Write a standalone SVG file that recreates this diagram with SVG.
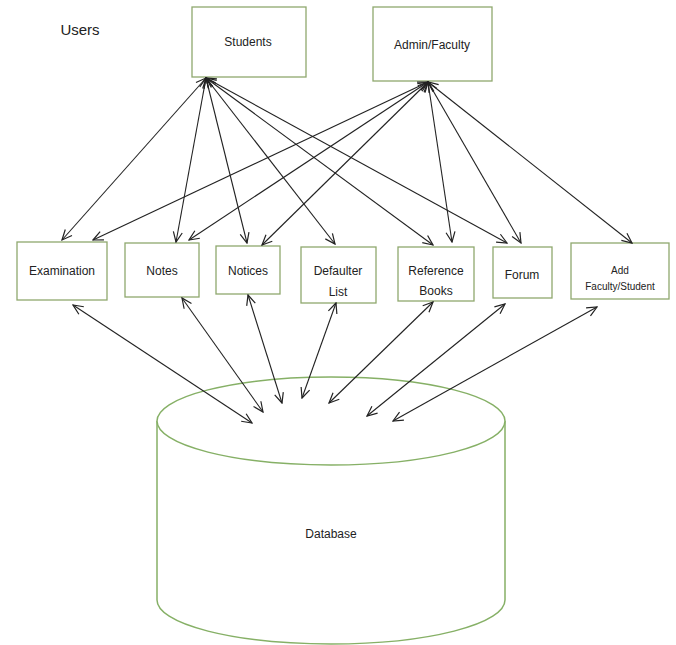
<svg xmlns="http://www.w3.org/2000/svg" width="676" height="645" viewBox="0 0 676 645">
<style>
.box{fill:#fff;stroke:#8fa86e;stroke-width:1.3}
.db{fill:#fff;stroke:#86b066;stroke-width:1.5}
.t{font-family:"Liberation Sans",Arial,sans-serif;font-size:12px;fill:#222;text-anchor:middle}
.c{stroke:#222;stroke-width:1.1;fill:none;marker-start:url(#ah);marker-end:url(#ah)}
</style>
<defs>
<marker id="ah" viewBox="-12 -6 13 12" markerWidth="13" markerHeight="12" refX="0" refY="0" markerUnits="userSpaceOnUse" orient="auto-start-reverse">
<path d="M-10,-4.5 L0,0 L-10,4.5" fill="none" stroke="#222" stroke-width="1.2"/>
</marker>
</defs>
<rect width="676" height="645" fill="#fff"/>
<text x="80" y="35" class="t" style="font-size:15px">Users</text>
<g id="students"><rect class="box" x="192" y="7" width="114" height="70"/><text class="t" x="248" y="46">Students</text></g>
<g id="admin"><rect class="box" x="373" y="7" width="119" height="74"/><text class="t" x="432" y="49">Admin/Faculty</text></g>
<g id="examination"><rect class="box" x="17" y="242" width="90" height="58"/><text class="t" x="62" y="275">Examination</text></g>
<g id="notes"><rect class="box" x="125" y="243" width="74" height="54"/><text class="t" x="162" y="275">Notes</text></g>
<g id="notices"><rect class="box" x="216" y="246" width="64" height="48"/><text class="t" x="248" y="275">Notices</text></g>
<g id="defaulter"><rect class="box" x="301" y="247" width="75" height="56"/><text class="t" x="338" y="275">Defaulter</text><text class="t" x="338" y="296">List</text></g>
<g id="reference"><rect class="box" x="398" y="247" width="76" height="54"/><text class="t" x="436" y="275">Reference</text><text class="t" x="436" y="295">Books</text></g>
<g id="forum"><rect class="box" x="493" y="247" width="59" height="51"/><text class="t" x="522" y="279">Forum</text></g>
<g id="addfaculty"><rect class="box" x="571" y="243" width="98" height="56"/><text class="t" x="620" y="274" style="font-size:10px">Add</text><text class="t" x="620" y="290" style="font-size:10px">Faculty/Student</text></g>
<g id="database">
<path class="db" d="M157,421 L157,600 A174,44 0 0 0 505,600 L505,421"/>
<ellipse class="db" cx="331" cy="421" rx="174" ry="44"/>
<text class="t" x="331" y="538">Database</text>
</g>
<g id="connectors">
<line class="c" x1="206" y1="78" x2="62" y2="240"/>
<line class="c" x1="206" y1="78" x2="176" y2="242"/>
<line class="c" x1="206" y1="78" x2="247" y2="243"/>
<line class="c" x1="206" y1="78" x2="335" y2="244"/>
<line class="c" x1="206" y1="78" x2="433" y2="245"/>
<line class="c" x1="206" y1="78" x2="507" y2="243"/>
<line class="c" x1="428" y1="82" x2="93" y2="240"/>
<line class="c" x1="428" y1="82" x2="189" y2="240"/>
<line class="c" x1="428" y1="82" x2="262" y2="245"/>
<line class="c" x1="428" y1="82" x2="452" y2="242"/>
<line class="c" x1="428" y1="82" x2="521" y2="243"/>
<line class="c" x1="428" y1="82" x2="632" y2="243"/>
<line class="c" x1="73" y1="305" x2="252" y2="423"/>
<line class="c" x1="182" y1="298" x2="263" y2="412"/>
<line class="c" x1="248" y1="295" x2="282" y2="403"/>
<line class="c" x1="336" y1="303" x2="302" y2="398"/>
<line class="c" x1="433" y1="302" x2="329" y2="403"/>
<line class="c" x1="505" y1="304" x2="367" y2="416"/>
<line class="c" x1="597" y1="307" x2="393" y2="421"/>
</g>
</svg>
